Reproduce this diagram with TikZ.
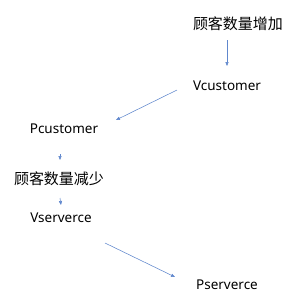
\documentclass[tikz,border=0pt]{standalone}
\usepackage{fontspec}
\setmainfont{Noto Sans}
\newfontfamily\cjk{Noto Sans CJK SC}
\usepackage{tikz}
\usetikzlibrary{arrows.meta,calc}
\definecolor{flowblue}{HTML}{4472C4}
\tikzset{
  flowarrow/.style={-{Triangle[length=1.4mm, width=1.1mm]}, line width=0.55pt,
    draw=flowblue!85},
  flowlabel/.style={inner sep=0pt, font=\fontsize{13.5}{16}\selectfont},
  flowcjk/.style={flowlabel, font=\fontsize{15}{17}\selectfont\cjk}
}

\begin{document}
\begin{tikzpicture}
  \useasboundingbox (0,0) rectangle (301pt,-306pt);
  \node[flowcjk] (incr) at (238pt,-24pt) {顾客数量增加};
  \node[flowlabel] (vcust) at (227pt,-86pt) {Vcustomer};
  \node[flowlabel] (pcust) at (64pt,-129pt) {Pcustomer};
  \node[flowcjk] (decr) at (59pt,-179pt) {顾客数量减少};
  \node[flowlabel] (vserv) at (61pt,-218pt) {Vserverce};
  \node[flowlabel] (pserv) at (227pt,-285pt) {Pserverce};

  \draw[flowarrow] ($(incr.center -| vcust.center)+(0,-16pt)$)
    -- ($(vcust.center)+(0,20pt)$);
  \draw[flowarrow] ($(vcust.center)+(-50pt,-4pt)$)
    -- ($(pcust.center)+(52pt,9pt)$);
  \draw[flowarrow] ($(pcust.center)+(-4pt,-25pt)$)
    -- ($(decr.center)+(1pt,19pt)$);
  \draw[flowarrow] ($(decr.center)+(1pt,-19pt)$)
    -- ($(vserv.center)+(0,13pt)$);
  \draw[flowarrow] ($(vserv.center)+(44pt,-25pt)$)
    -- ($(pserv.center)+(-52pt,8pt)$);
\end{tikzpicture}
\end{document}
